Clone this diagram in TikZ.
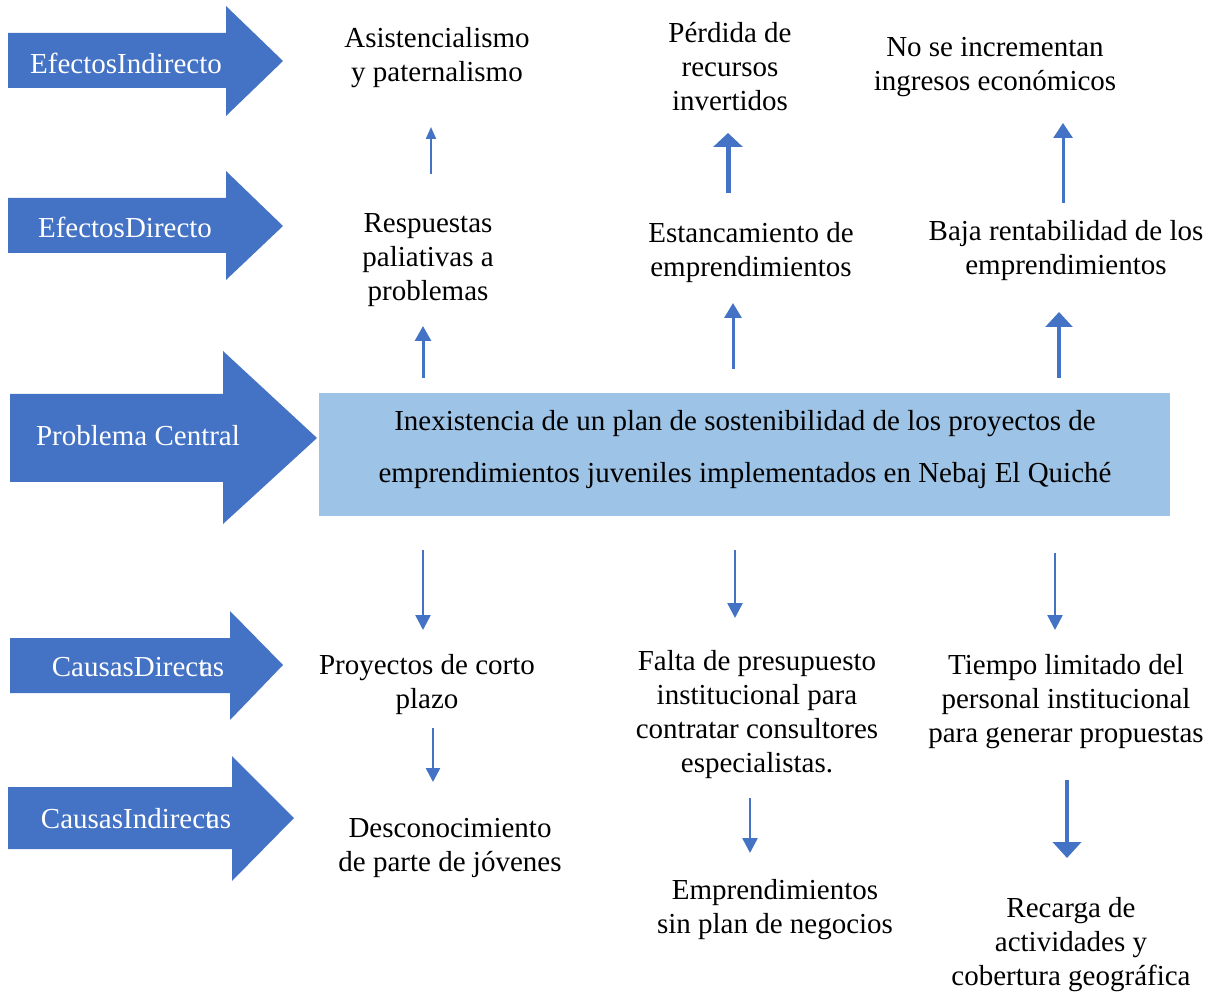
\documentclass[tikz,border=0pt]{standalone}
\usepackage{fontspec}
\setmainfont{LiberationSerif-Regular.ttf}
\usetikzlibrary{arrows.meta}
\definecolor{ablue}{HTML}{4472C4}
\definecolor{boxblue}{HTML}{9DC3E6}
\tikzset{
  blockarrow/.style={fill=ablue, draw=none},
  lbl/.style={text=white, font=\fontsize{21.75}{25.5}\selectfont, inner sep=0pt},
  txt/.style={align=center, font=\fontsize{21.75}{25.5}\selectfont, inner sep=0pt},
  conn/.style n args={3}{draw=ablue, line width=#1, -{Triangle[width=#2,length=#3]}}
}
\begin{document}
\begin{tikzpicture}[x=0.75pt,y=-0.75pt]
\useasboundingbox (0,0) rectangle (1217,994);
% left block arrows
\fill[blockarrow] (8,33)--(226,33)--(226,6)--(283,61)--(226,116)--(226,88)--(8,88)--cycle;
\fill[blockarrow] (8,198)--(226,198)--(226,171)--(283,226)--(226,280)--(226,253)--(8,253)--cycle;
\fill[blockarrow] (10,394)--(223,394)--(223,351)--(317,438)--(223,524)--(223,482)--(10,482)--cycle;
\fill[blockarrow] (10,638)--(230,638)--(230,611)--(283,665)--(230,720)--(230,693)--(10,693)--cycle;
\fill[blockarrow] (8,787)--(232,787)--(232,756)--(294,818)--(232,881)--(232,849)--(8,849)--cycle;
\node[lbl] (lei) at (126,63) {EfectosIndirecto};
\node[lbl] (led) at (125,227) {EfectosDirecto};
\node[lbl] (lpc) at (138,436) {Problema Central};
\node[lbl] (lcd) at (138,667) {CausasDirec\kern0pt t\kern-0.22em as};
\node[lbl] (lci) at (136,819) {CausasIndirec\kern0pt t\kern-0.22em as};
% central box
\node[fill=boxblue, minimum width=638.25pt, minimum height=92.25pt, inner sep=0pt] (box) at (744.5,454.5) {};
\node[align=center, font=\fontsize{21.75}{39}\selectfont, inner sep=0pt] (central) at (745,450)
  {Inexistencia de un plan de sostenibilidad de los proyectos de\\emprendimientos juveniles implementados en Nebaj El Quiché};
% effects
\node[txt] (ei1) at (437,58) {Asistencialismo\\y paternalismo};
\node[txt] (ei2) at (730,67) {Pérdida de\\recursos\\invertidos};
\node[txt] (ei3) at (995,67) {No se incrementan\\ingresos económicos};
\node[txt] (ed1) at (428,260) {Respuestas\\paliativas a\\problemas};
\node[txt] (ed2) at (751,253) {Estancamiento de\\emprendimientos};
\node[txt] (ed3) at (1066,251) {Baja rentabilidad de los\\emprendimientos};
% causes
\node[txt] (cd1) at (427,685) {Proyectos de corto\\plazo};
\node[txt] (cd2) at (757,715) {Falta de presupuesto\\institucional para\\contratar consultores\\especialistas.};
\node[txt] (cd3) at (1066,702) {Tiempo limitado del\\personal institucional\\para generar propuestas};
\node[txt] (ci1) at (450,848) {Desconocimiento\\de parte de jóvenes};
\node[txt] (ci2) at (775,910) {Emprendimientos\\sin plan de negocios};
\node[txt] (ci3) at (1071,945) {Recarga de\\actividades y\\cobertura geográfica};
% connector end points
\coordinate (a1s) at (431,174); \coordinate (a1e) at (431,127);
\coordinate (a2s) at (423,378); \coordinate (a2e) at (423,326);
\coordinate (a3s) at (728,193); \coordinate (a3e) at (728,133);
\coordinate (a4s) at (733,369); \coordinate (a4e) at (733,303);
\coordinate (a5s) at (1063,203); \coordinate (a5e) at (1063,123);
\coordinate (a6s) at (1059,378); \coordinate (a6e) at (1059,312);
\coordinate (a7s) at (423,550); \coordinate (a7e) at (423,630);
\coordinate (a8s) at (433,728); \coordinate (a8e) at (433,782);
\coordinate (a9s) at (735,550); \coordinate (a9e) at (735,618);
\coordinate (a10s) at (750,798); \coordinate (a10e) at (750,853);
\coordinate (a11s) at (1055,553); \coordinate (a11e) at (1055,630);
\coordinate (a12s) at (1067,780); \coordinate (a12e) at (1067,858);
\draw[conn={1.5pt}{7.5pt}{9pt}] (a1s) -- (a1e);
\draw[conn={2.25pt}{12pt}{11.25pt}] (a2s) -- (a2e);
\draw[conn={3.75pt}{21.75pt}{10.5pt}] (a3s) -- (a3e);
\draw[conn={2.25pt}{12.75pt}{11.25pt}] (a4s) -- (a4e);
\draw[conn={2.25pt}{14.25pt}{11.25pt}] (a5s) -- (a5e);
\draw[conn={3.4pt}{20pt}{11.25pt}] (a6s) -- (a6e);
\draw[conn={1.9pt}{11.25pt}{11.25pt}] (a7s) -- (a7e);
\draw[conn={1.9pt}{10.5pt}{10.5pt}] (a8s) -- (a8e);
\draw[conn={1.9pt}{11.25pt}{11.25pt}] (a9s) -- (a9e);
\draw[conn={1.9pt}{11.25pt}{11.25pt}] (a10s) -- (a10e);
\draw[conn={1.9pt}{11.25pt}{11.25pt}] (a11s) -- (a11e);
\draw[conn={3.4pt}{21pt}{12pt}] (a12s) -- (a12e);
\end{tikzpicture}
\end{document}
